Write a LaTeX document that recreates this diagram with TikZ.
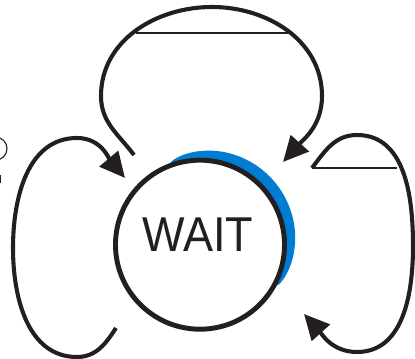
\documentclass[tikz,border=0pt]{standalone}
\usepackage{fontspec}
\setmainfont{Liberation Sans}
\usepackage{graphicx}
\usepackage{tikz}
\usetikzlibrary{arrows.meta,backgrounds,calc}
\definecolor{inkblack}{RGB}{35,31,32}
\definecolor{waitblue}{RGB}{0,125,210}

\begin{document}
\begin{tikzpicture}[
  x=0.025cm, y=0.025cm,
  state/.style={circle, draw=inkblack, line width=3.5pt, fill=white,
    minimum size=4.225cm, inner sep=0pt},
  statelabel/.style={font=\fontsize{34.8}{40}\selectfont, text=inkblack, inner sep=0pt},
  trans/.style={draw=inkblack, line width=2.9pt},
  arr/.style={-{Triangle[length=18pt,width=17pt]}},
  bar/.style={draw=inkblack, line width=1pt}
]
\useasboundingbox (0,0) rectangle (415,359);

\node[state] (wait) at (200,114.3) {};
\node[statelabel] (waitlabel) at ([shift={(-2,10)}]wait.center) {\scalebox{0.92}[1]{WAIT}};
\begin{scope}[on background layer, shift={(wait.center)}]
  \fill[waitblue] plot[domain=-27.5:109.5, samples=90]
    (\x:{86+11.5*sqrt(abs(sin((110-\x)*1.3))+0.002)}) -- (110:84) arc[start angle=110, end angle=-28, radius=84] -- cycle;
\end{scope}

% top loop
\coordinate (topstart) at (134,204);
\coordinate (topwest) at (101,263);
\coordinate (topnorth) at (212,352);
\coordinate (topeast) at (322,263);
\coordinate (topend) at (283,197);
\draw[trans, arr] (topstart) to[out=127, in=-90] (topwest) to[out=90, in=180] (topnorth)
  to[out=0, in=90] (topeast) to[out=-90, in=48] (topend);
\draw[bar] (136,326) -- (288,326);

% left loop
\coordinate (leftstart) at (116,31);
\coordinate (leftsouth) at (77,2);
\coordinate (leftwest) at (13,111);
\coordinate (leftnorth) at (77,221);
\coordinate (leftend) at (125,181);
\draw[trans, arr] (leftstart) to[out=-123, in=0] (leftsouth) to[out=180, in=-90] (leftwest)
  to[out=90, in=180] (leftnorth) to[out=0, in=130] (leftend);

% right loop
\coordinate (rightstart) at (312,191);
\coordinate (rightnorth) at (357,224);
\coordinate (righteast) at (413,113);
\coordinate (rightsouth) at (357,7);
\coordinate (rightend) at (304,45);
\draw[trans, arr] (rightstart) to[out=53, in=180] (rightnorth) to[out=0, in=90] (righteast)
  to[out=-90, in=0] (rightsouth) to[out=180, in=-48] (rightend);
\draw[bar] (rightstart) -- (397,191);

\draw[inkblack, line width=0.8pt] (0,221) arc[start angle=67, end angle=-67, radius=11.5];
\draw[inkblack, line width=0.8pt] (0.8,176) -- (0.8,184);
\end{tikzpicture}
\end{document}
